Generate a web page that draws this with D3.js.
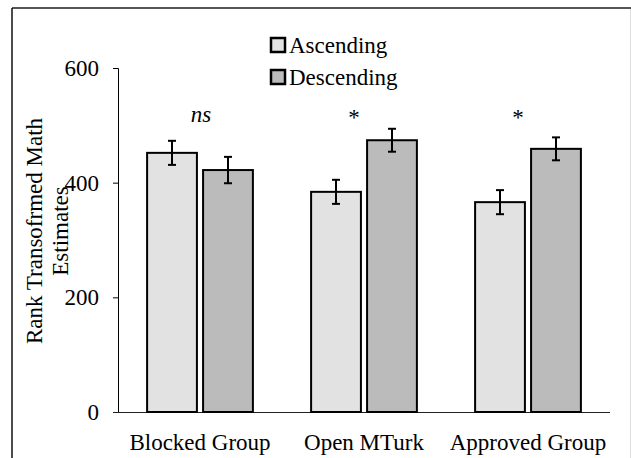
<!DOCTYPE html>
<html>
<head>
<meta charset="utf-8">
<script src="https://cdn.jsdelivr.net/npm/d3@7"></script>
<style>
  body { margin: 0; background: #fff; }
  svg text { font-family: "Liberation Serif", "Times New Roman", Times, "DejaVu Serif", serif; fill: #000; }
</style>
</head>
<body>
<svg></svg>
<script>
var groups = ["Blocked Group", "Open MTurk", "Approved Group"];
var series = ["Ascending", "Descending"];
var ascending = [452, 384, 366];
var ascendingErr = [21, 21, 21];
var descending = [422, 474, 459];
var descendingErr = [23, 20, 20];
var marks = ["ns", "*", "*"];
var yTicks = [0, 200, 400, 600];

var viewWidth = 631;
var viewHeight = 458;
var serif = '"Liberation Serif", "Times New Roman", Times, "DejaVu Serif", serif';
var colors = {"Ascending": "#e1e2e1", "Descending": "#bbbbbb"};

var svg = d3.select("svg")
    .attr("width", viewWidth)
    .attr("height", viewHeight);

// frame around the figure
svg.append("line")
  .attr("x1", 12).attr("y1", 8).attr("x2", viewWidth).attr("y2", 8)
  .attr("stroke", "#555").attr("stroke-width", 2);
svg.append("line")
  .attr("x1", 12).attr("y1", 8).attr("x2", 12).attr("y2", viewHeight)
  .attr("stroke", "#111").attr("stroke-width", 1.5);
svg.append("line")
  .attr("x1", 630.5).attr("y1", 9).attr("x2", 630.5).attr("y2", viewHeight)
  .attr("stroke", "#ddd").attr("stroke-width", 1);

var xScale = d3.scaleBand()
  .domain(groups)
  .range([118, 610]);
var xInner = d3.scaleBand()
  .domain(series)
  .range([0, xScale.bandwidth()])
  .paddingInner(0.11)
  .paddingOuter(0.52);
var yScale = d3.scaleLinear()
  .domain([0, 600])
  .range([412, 68]);

var rows = groups.map(function(g, i) {
  return [
    {group: g, s: "Ascending", v: ascending[i], e: ascendingErr[i]},
    {group: g, s: "Descending", v: descending[i], e: descendingErr[i]}
  ];
});
var flat = [].concat.apply([], rows);

// y axis
var yAxis = d3.axisLeft(yScale).tickValues(yTicks).tickSize(5).tickPadding(14);
var gy = svg.append("g")
  .attr("transform", "translate(118,0)")
  .call(yAxis)
  .attr("font-family", serif)
  .attr("font-size", 23);
gy.select(".domain").attr("stroke", "#000").attr("d", "M-5,68.5H0.5V412");
gy.selectAll(".tick line").attr("stroke", "#000");

// x axis baseline and labels
var xAxis = d3.axisBottom(xScale).tickSize(0).tickPadding(22);
var gx = svg.append("g")
  .attr("transform", "translate(0,412)")
  .call(xAxis)
  .attr("font-family", serif)
  .attr("font-size", 23);
gx.select(".domain").attr("stroke", "#222").attr("d", "M113,0.5H610");

// bars
svg.append("g").selectAll("rect")
  .data(flat)
  .enter()
  .append("rect")
  .attr("x", function(d) { return xScale(d.group) + xInner(d.s); })
  .attr("y", function(d) { return yScale(d.v); })
  .attr("width", xInner.bandwidth())
  .attr("height", function(d) { return yScale(0) - yScale(d.v); })
  .attr("fill", function(d) { return colors[d.s]; })
  .attr("stroke", "#000")
  .attr("stroke-width", 2);

// error bars
var eb = svg.append("g").selectAll("g")
  .data(flat)
  .enter()
  .append("g")
  .attr("transform", function(d) {
    return "translate(" + (xScale(d.group) + xInner(d.s) + xInner.bandwidth() / 2) + ",0)";
  });
eb.append("line")
  .attr("x1", 0).attr("x2", 0)
  .attr("y1", function(d) { return yScale(d.v + d.e); })
  .attr("y2", function(d) { return yScale(d.v - d.e); })
  .attr("stroke", "#000").attr("stroke-width", 2);
eb.append("line")
  .attr("x1", -4).attr("x2", 4)
  .attr("y1", function(d) { return yScale(d.v + d.e); })
  .attr("y2", function(d) { return yScale(d.v + d.e); })
  .attr("stroke", "#000").attr("stroke-width", 2);
eb.append("line")
  .attr("x1", -4).attr("x2", 4)
  .attr("y1", function(d) { return yScale(d.v - d.e); })
  .attr("y2", function(d) { return yScale(d.v - d.e); })
  .attr("stroke", "#000").attr("stroke-width", 2);

// significance marks
svg.append("g").selectAll("text")
  .data(marks)
  .enter()
  .append("text")
  .attr("x", function(d, i) { return xScale(groups[i]) + xScale.bandwidth() / 2 + (d == "ns" ? 1 : -10); })
  .attr("y", function(d) { return d == "ns" ? 122 : 125; })
  .attr("text-anchor", "middle")
  .attr("font-size", 23)
  .style("font-style", function(d) { return d == "ns" ? "italic" : "normal"; })
  .text(function(d) { return d; });

// legend
var legend = svg.append("g").selectAll("g")
  .data(series)
  .enter()
  .append("g")
  .attr("transform", function(d, i) { return "translate(270," + (45 + i * 32) + ")"; });
legend.append("rect")
  .attr("x", 1).attr("y", -7)
  .attr("width", 14).attr("height", 14)
  .attr("fill", function(d) { return colors[d]; })
  .attr("stroke", "#000")
  .attr("stroke-width", 2.5);
legend.append("text")
  .attr("x", 19)
  .attr("y", 8)
  .attr("font-size", 23)
  .text(function(d) { return d; });

// y title, two lines
var title = svg.append("text")
  .attr("transform", "translate(47,231) rotate(-90)")
  .attr("text-anchor", "middle")
  .attr("font-size", 23);
title.append("tspan").attr("x", 0).attr("y", -5).text("Rank Transofrmed Math");
title.append("tspan").attr("x", 0).attr("y", 21).text("Estimates");
</script>
</body>
</html>
